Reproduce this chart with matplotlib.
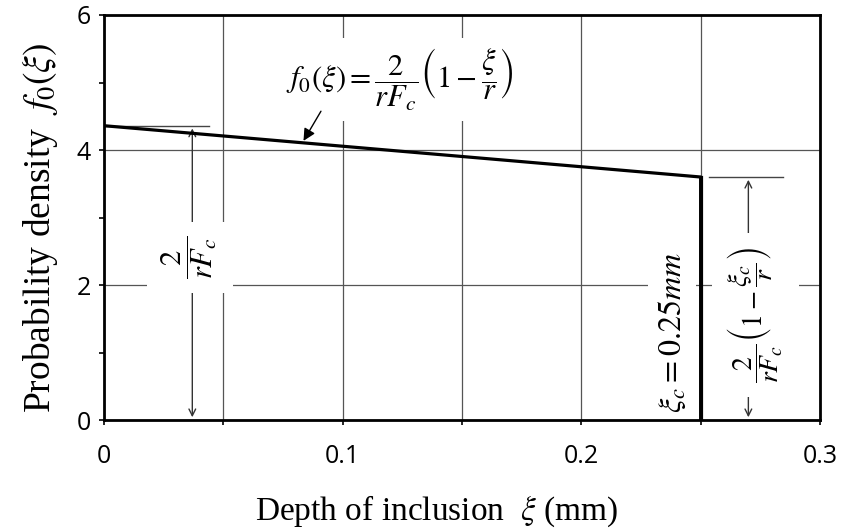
import matplotlib
matplotlib.use("Agg")
import matplotlib.pyplot as plt
from matplotlib.ticker import MultipleLocator

plt.rcParams['mathtext.fontset'] = 'stix'

# data
depth = [0.0, 0.25, 0.25]
density = [4.36, 3.60, 0.0]
xi_c = 0.25
f_start = 4.36
f_end = 3.60
xticks = [0, 0.1, 0.2, 0.3]
xticklabels = ['0', '0.1', '0.2', '0.3']
yticks = [0, 2, 4, 6]

fig = plt.figure(figsize=(8.49, 5.30), dpi=100)
ax = fig.add_axes([0.1225, 0.2075, 0.8433, 0.7642])
ax.set_xlim(0, 0.3)
ax.set_ylim(0, 6)

ax.set_xticks(xticks)
ax.set_xticklabels(xticklabels)
ax.set_yticks(yticks)
ax.xaxis.set_minor_locator(MultipleLocator(0.05))
ax.yaxis.set_minor_locator(MultipleLocator(1))
ax.tick_params(which='both', direction='out', length=3.5, width=1.2,
               labelsize=18)
ax.tick_params(axis='x', which='both', pad=14)
ax.tick_params(axis='y', which='both', pad=6)
for lab in ax.get_xticklabels() + ax.get_yticklabels():
    lab.set_family('Open Sans')

ax.grid(which='major', axis='y', color='#555555', lw=0.9)
ax.grid(which='both', axis='x', color='#555555', lw=0.9)
ax.set_axisbelow(True)
for s in ax.spines.values():
    s.set_linewidth(2)

ax.plot(depth, density, color='black', lw=2.3, zorder=3)

serif = 'Liberation Serif'
ax.set_xlabel(r'Depth of inclusion  $\xi$ (mm)', family=serif, fontsize=24)
ax.set_ylabel(r'Probability density  $f_0\left(\xi\right)$', family=serif, fontsize=27)
ax.xaxis.set_label_coords(0.464, -0.225)
ax.xaxis.label.set_va('center')
ax.yaxis.set_label_coords(-0.089, 0.474)
ax.yaxis.label.set_va('center')

# formula with arrow
ax.text(0.124, 5.05, r'$f_0\left(\xi\right)=\dfrac{2}{rF_c}\left(1-\dfrac{\xi}{r}\right)$',
        fontsize=22, ha='center', va='center',
        bbox=dict(facecolor='white', edgecolor='none', pad=6), zorder=4)
ax.annotate('', xy=(0.083, 4.10), xytext=(0.0915, 4.61),
            arrowprops=dict(arrowstyle='-|>', color='black', lw=1.0,
                            mutation_scale=18), zorder=5)

# left dimension
ax.plot([0.0, 0.044], [f_start, f_start], color='#444444', lw=1.0, zorder=2)
ax.annotate('', xy=(0.037, f_start), xytext=(0.037, 0.0),
            arrowprops=dict(arrowstyle='<->', color='#333333', lw=1.0,
                            mutation_scale=12), zorder=2)
ax.text(0.036, 2.41, r'$\dfrac{2}{rF_c}$', fontsize=22, rotation=90,
        ha='center', va='center',
        bbox=dict(facecolor='white', edgecolor='none', pad=10), zorder=4)

# right dimension
ax.plot([0.2535, 0.2845], [f_end, f_end], color='#444444', lw=1.0, zorder=2)
ax.annotate('', xy=(0.270, f_end), xytext=(0.270, 0.0),
            arrowprops=dict(arrowstyle='<->', color='#333333', lw=1.0,
                            mutation_scale=12), zorder=2)
ax.text(0.2728, 1.56, r'$\dfrac{2}{rF_c}\left(1-\dfrac{\xi_c}{r}\right)$',
        fontsize=20, rotation=90, ha='center', va='center',
        bbox=dict(facecolor='white', edgecolor='none', pad=10), zorder=4)

ax.text(0.238, 1.30, r'$\xi_c = 0.25mm$', fontsize=23, rotation=90,
        ha='center', va='center',
        bbox=dict(facecolor='white', edgecolor='none', pad=6), zorder=2.5)
ax.plot([xi_c, xi_c], [0, f_end], color='black', lw=2.3, zorder=3)

fig.savefig('out.png', dpi=100)
